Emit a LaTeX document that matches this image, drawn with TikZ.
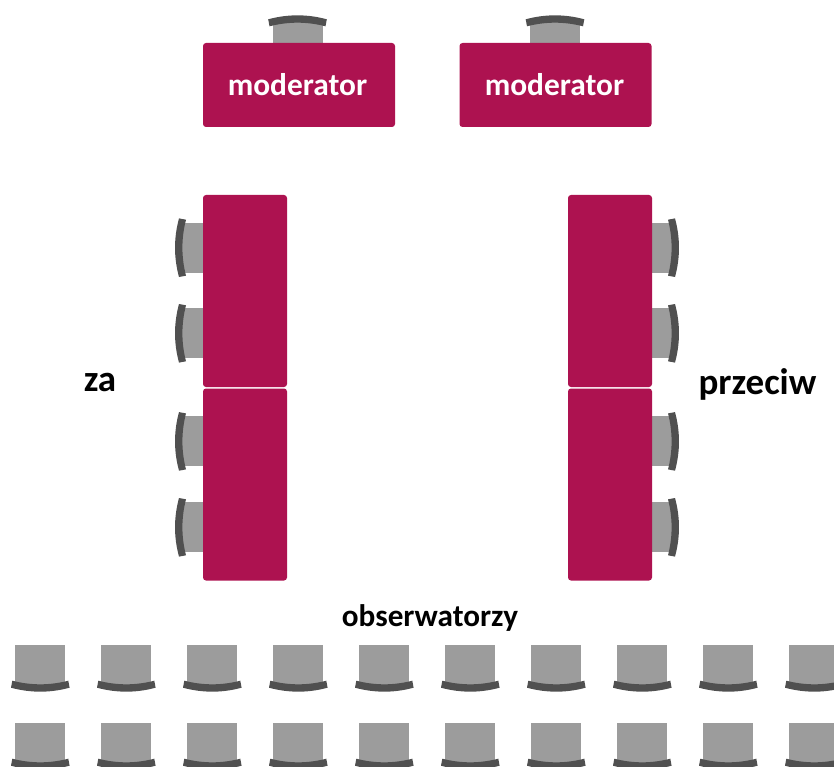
\documentclass[tikz,border=0pt]{standalone}
\usepackage{fontspec}
\setmainfont{Carlito}
\definecolor{tableRed}{HTML}{AD1250}
\definecolor{seatGrey}{HTML}{9C9C9C}
\definecolor{backGrey}{HTML}{505050}
\def\chairSpacing{86}
\tikzset{
    tablebox/.style = {fill = tableRed, rounded corners = 3pt, inner sep = 0pt, text = white, font = \bfseries\fontsize{31.4}{34}\selectfont},
    bigtable/.style = {tablebox, minimum width = 192pt, minimum height = 84pt},
    longtable/.style = {tablebox, minimum width = 84pt, minimum height = 192pt},
    sidelabel/.style = {inner sep = 0pt, font = \bfseries\fontsize{37}{40}\selectfont},
    pics/chair/.style = {code = {
        \fill [seatGrey] (-25,0) rectangle (25,41);
        \fill [backGrey]
        (-28,35.7) .. controls (-9.3,40.5) and (9.3,40.5) .. (28,35.7)
        -- (29.3,42.7) .. controls (9.8,48) and (-9.8,48) .. (-29.3,42.7)
        -- cycle
        ;
    }},
}
\begin{document}
\begin{tikzpicture}[x = 1pt, y = -1pt]
    \useasboundingbox (0,0) rectangle (834,767);
    %% moderators
    \foreach \x in {297.5,555} {
        \pic [rotate = 180] at (\x,62) {chair};
    }
    \node [bigtable] (moderatorleft) at (299,85) {\kern-3pt moderator};
    \node [bigtable] (moderatorright) at (555.5,85) {\kern-2pt moderator};
    %% sides
    \foreach \y in {247.7,333.3,441.4,527.3} {
        \pic [rotate = -90] at (221.7,\y) {chair};
        \pic [rotate = 90] at (632.3,\y) {chair};
    }
    \node [longtable] (zatop) at (245,291) {};
    \node [longtable] (zabottom) at (245,484.5) {};
    \node [longtable] (przeciwtop) at (610,291) {};
    \node [longtable] (przeciwbottom) at (610,484.5) {};
    \node [sidelabel] (zalabel) at (100,382) {za};
    \node [sidelabel] (przeciwlabel) at (757.5,384) {przeciw};
    \node [sidelabel, font = \bfseries\fontsize{31.2}{34}\selectfont] (obserwatorzylabel) at (430,618) {obserwatorzy};
    %% audience
    \foreach \y in {645,723} {
        \foreach \i in {0,...,9} {
            \pic at ({40.3+\i*\chairSpacing},\y) {chair};
        }
    }
\end{tikzpicture}
\end{document}
